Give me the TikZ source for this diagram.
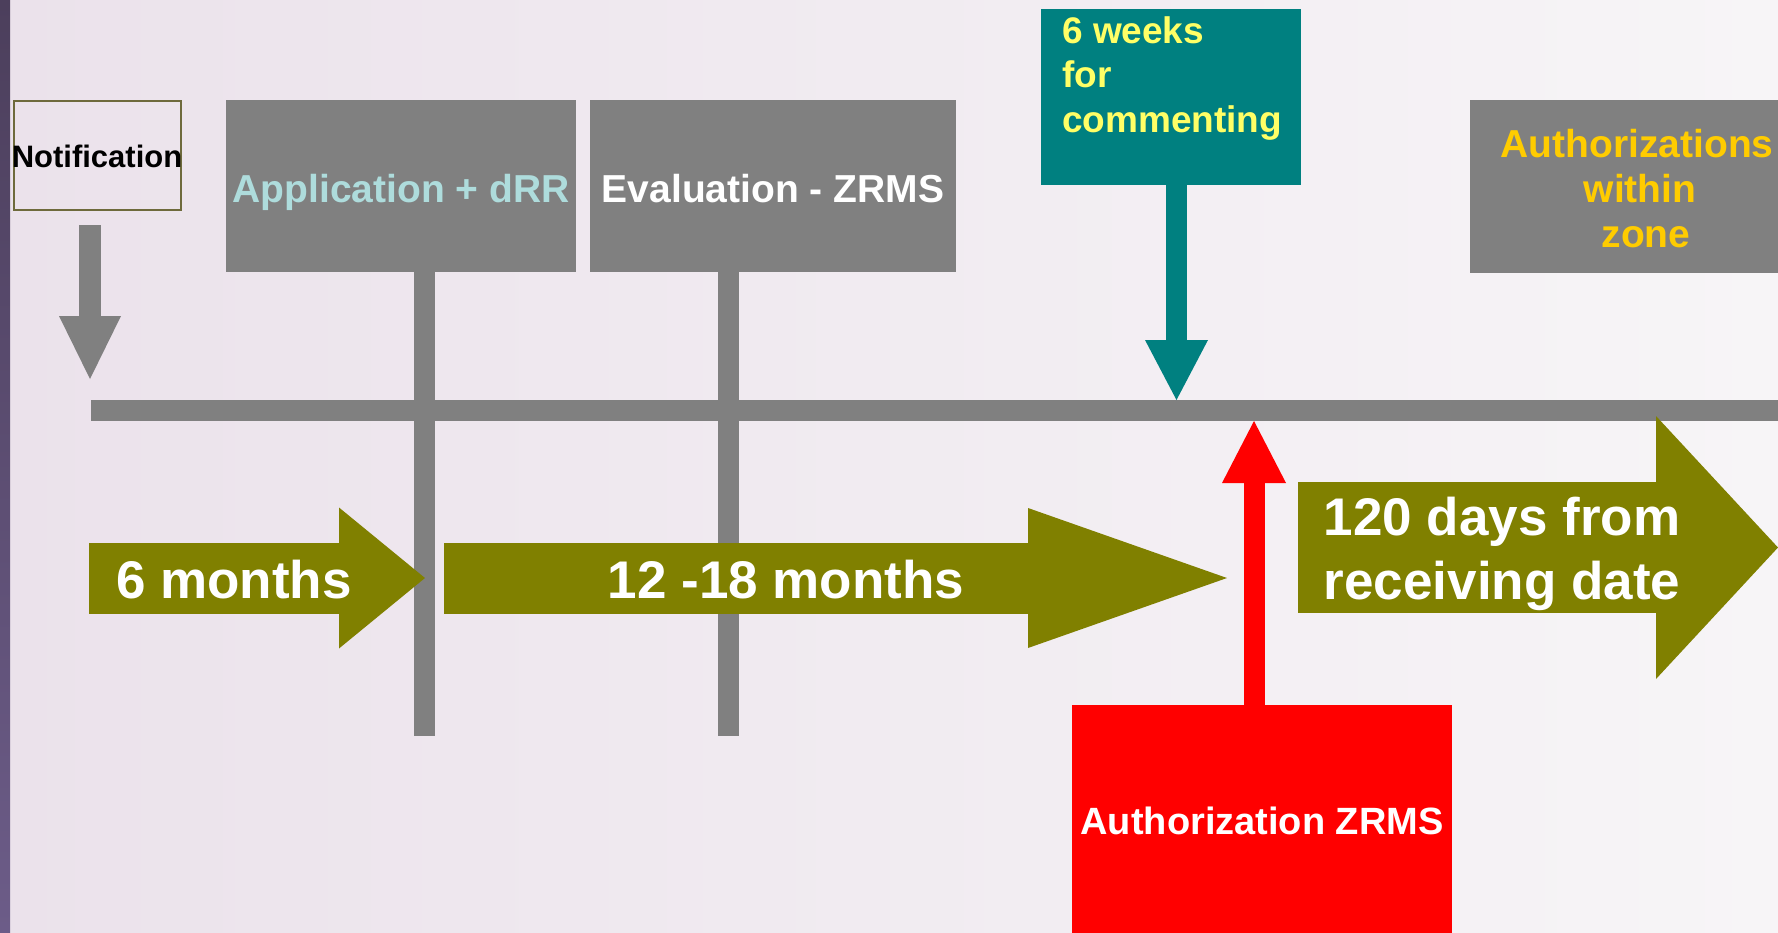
\documentclass[tikz,border=0pt]{standalone}
\usepackage{fontspec}
\setmainfont{Liberation Sans}
\usetikzlibrary{arrows.meta,calc}
\definecolor{tlgray}{HTML}{808080}
\definecolor{olivec}{HTML}{808000}
\definecolor{tealc}{HTML}{008080}
\definecolor{appblue}{HTML}{AEDCDC}
\definecolor{cmtyellow}{HTML}{FFFF66}
\definecolor{zonegold}{HTML}{FFCC00}
\definecolor{notifborder}{HTML}{6E6A3C}
\definecolor{bgL}{HTML}{EBE2EB}
\definecolor{bgR}{HTML}{F7F5F7}
\definecolor{stripT}{HTML}{4C3F5C}
\definecolor{stripB}{HTML}{6C5C88}
\newcommand\fsz[2]{\fontsize{#1}{#2}\selectfont\bfseries}
\tikzset{
  box/.style={rectangle, inner sep=0pt, outer sep=0pt, anchor=north west, draw=none},
  txt/.style={inner sep=0pt, outer sep=0pt, anchor=base},
  bar/.style={draw=tlgray, line width=21pt},
  fatarrow/.style n args={4}{draw=#1, line width=#2, -{Triangle[width=#3, length=#4, line width=0pt]}}
}
\begin{document}
\begin{tikzpicture}[x=1pt,y=-1pt]
\useasboundingbox (0,0) rectangle (1778,932);
% background
\fill[left color=bgL, right color=bgR] (0,0) rectangle (1778,932);
\fill[top color=stripT, bottom color=stripB] (0,0) rectangle (10,932);

% boxes
\node[box, draw=notifborder, line width=2pt, minimum width=167pt, minimum height=109pt] (notif) at (14,101) {};
\node[box, fill=tlgray, minimum width=350pt, minimum height=172pt] (app) at (226,100) {};
\node[box, fill=tlgray, minimum width=366pt, minimum height=172pt] (eval) at (590,100) {};
\node[box, fill=tealc, minimum width=260pt, minimum height=176pt] (cmt) at (1041,9) {};
\node[box, fill=tlgray, minimum width=310pt, minimum height=173pt] (zone) at (1470,100) {};
\node[box, fill=red, minimum width=380pt, minimum height=230pt] (auth) at (1072,705) {};

% vertical bars below the boxes
\coordinate (appA) at ($(app.south)+(23,0)$);
\coordinate (appB) at (424,736);
\coordinate (evalA) at ($(eval.south)+(-45,0)$);
\coordinate (evalB) at (728,736);
\draw[bar] (appA) -- (appB);
\draw[bar] (evalA) -- (evalB);

% timeline
\node[box, fill=tlgray, minimum width=1687pt, minimum height=21pt] (tl) at (91,400) {};

% notification arrow
\coordinate (nA) at (90,225);
\coordinate (nB) at (90,379);
\draw[fatarrow={tlgray}{22pt}{62pt}{63pt}] (nA) -- (nB);

% commenting arrow
\coordinate (cmtA) at ($(cmt.south)+(5.5,0)$);
\draw[fatarrow={tealc}{21pt}{63pt}{60pt}] (cmtA) -- (cmtA |- tl.north);

% authorization arrow
\coordinate (authA) at ($(auth.north)+(-8,0)$);
\draw[fatarrow={red}{21pt}{64pt}{62pt}] (authA) -- (authA |- tl.south);

% duration arrows
\coordinate (d1A) at (89,578);
\coordinate (d1B) at (425,578);
\coordinate (d2A) at (444,578);
\coordinate (d2B) at (1227,578);
\coordinate (d3A) at (1298,547.5);
\coordinate (d3B) at (1778,547.5);
\draw[fatarrow={olivec}{71pt}{141pt}{86pt}] (d1A) -- (d1B);
\draw[fatarrow={olivec}{71pt}{140pt}{199pt}] (d2A) -- (d2B);
\draw[fatarrow={olivec}{131pt}{263pt}{122pt}] (d3A) -- (d3B);

% texts
\node[txt, font=\fsz{31}{36}, text=black] (notiftxt) at (97,167) {Notification};
\node[txt, font=\fsz{39}{45}, text=appblue] (apptxt) at (401,202) {Application + dRR};
\node[txt, font=\fsz{39}{45}, text=white] (evaltxt) at (773,202) {Evaluation - ZRMS};
\node[inner sep=0pt, anchor=north west, align=left, font=\fsz{37}{44.5}, text=cmtyellow] (cmttxt) at (1062,16) {6 weeks\\for\\commenting};
\node[inner sep=0pt, anchor=north, align=center, font=\fsz{39}{45}, text=zonegold] (zonetxt) at (1637,129) {Authorizations\\\hspace*{6pt}within\\\hspace*{18pt}zone};
\node[txt, font=\fsz{38}{44}, text=white] (authtxt) at (1262,834) {Authorization ZRMS};
\node[txt, font=\fsz{53}{64}, text=white] (d1txt) at (234,598) {6 months};
\node[txt, font=\fsz{53}{64}, text=white] (d2txt) at (786,598) {12 -18 months};
\node[inner sep=0pt, anchor=north, align=center, font=\fsz{53}{64}, text=white] (d3txt) at (1502,497) {120 days from\\receiving date};
\end{tikzpicture}
\end{document}
